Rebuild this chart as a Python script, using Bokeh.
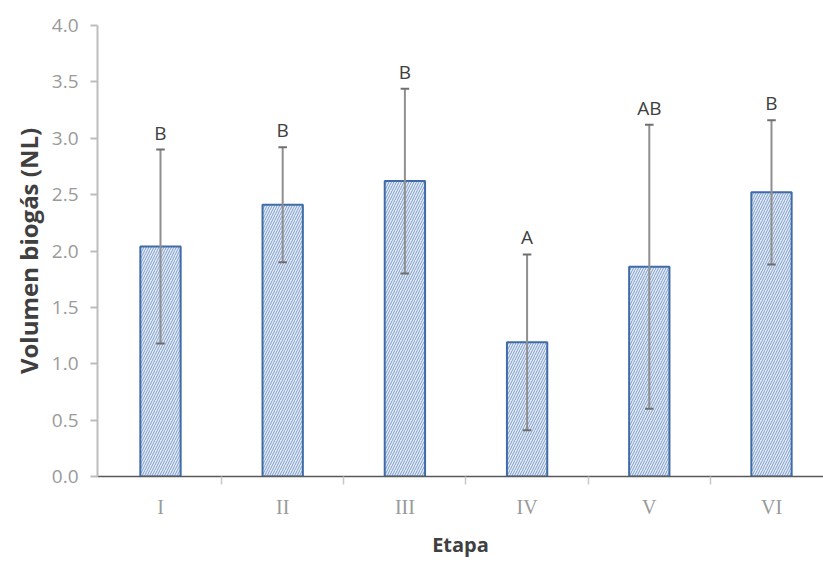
from bokeh.plotting import figure
from bokeh.models import ColumnDataSource, FixedTicker, Range1d
from bokeh.core.properties import value
from bokeh.embed import file_html
from bokeh.resources import INLINE

# Biogas volume per stage (mean ± error) with significance letters
etapas = ["I", "II", "III", "IV", "V", "VI"]
volumen = [2.04, 2.41, 2.62, 1.19, 1.86, 2.52]
error = [0.86, 0.51, 0.82, 0.78, 1.26, 0.64]
letras = ["B", "B", "B", "A", "AB", "B"]
y_ticks = [0.0, 0.5, 1.0, 1.5, 2.0, 2.5, 3.0, 3.5, 4.0]

xpos = [i + 1 for i in range(len(etapas))]
src = ColumnDataSource(dict(
    x=xpos,
    top=volumen,
    lo=[v - e for v, e in zip(volumen, error)],
    hi=[v + e for v, e in zip(volumen, error)],
    cap_l=[x - 0.035 for x in xpos],
    cap_r=[x + 0.035 for x in xpos],
    letra=letras,
))

p = figure(width=823, height=562, output_backend="svg", toolbar_location=None,
           x_range=Range1d(0.4845, 6.4256), y_range=Range1d(0, 4),
           min_border_left=97, min_border_right=0, min_border_top=25,
           min_border_bottom=86)
p.outline_line_color = None
p.grid.grid_line_color = None
p.background_fill_color = "white"
p.border_fill_color = "white"

# bars with diagonal hatch
p.vbar(x="x", top="top", bottom=0, width=0.33, source=src,
       fill_color="#e4ecf7", line_color="#3f6ca8", line_width=2,
       hatch_pattern="/", hatch_color="#7f9ccb", hatch_scale=5, hatch_weight=1)

# error bars
p.segment(x0="x", y0="lo", x1="x", y1="hi", source=src,
          line_color="#8f8f8f", line_width=2)
p.segment(x0="cap_l", y0="hi", x1="cap_r", y1="hi", source=src,
          line_color="#6f6f6f", line_width=2)
p.segment(x0="cap_l", y0="lo", x1="cap_r", y1="lo", source=src,
          line_color="#6f6f6f", line_width=2)

# significance letters
p.text(x="x", y="hi", text="letra", source=src, y_offset=-4,
       text_align="center", text_baseline="bottom",
       text_font=value("Open Sans"), text_font_size="19px", text_color="#404040")

# y axis
ya = p.yaxis[0]
ya.ticker = FixedTicker(ticks=y_ticks, minor_ticks=[])
ya.major_label_overrides = {t: f"{t:.1f}" for t in y_ticks}
ya.axis_line_color = "#bdbdbd"
ya.axis_line_width = 2
ya.major_tick_line_color = "#bdbdbd"
ya.major_tick_line_width = 2
ya.major_tick_in = 0
ya.major_tick_out = 7
ya.major_label_standoff = 12
ya.major_label_text_font = "Open Sans"
ya.major_label_text_font_size = "19px"
ya.major_label_text_color = "#9a9a9a"
ya.axis_label = "Volumen biogás (NL)"
ya.axis_label_text_font = "Open Sans"
ya.axis_label_text_font_style = "bold"
ya.axis_label_text_font_size = "24px"
ya.axis_label_text_color = "#404040"
ya.axis_label_standoff = 4

# x axis: category labels at centres, separator ticks between categories
xa = p.xaxis[0]
xa.ticker = FixedTicker(ticks=xpos, minor_ticks=[1.5, 2.5, 3.5, 4.5, 5.5])
xa.major_label_overrides = {x: e for x, e in zip(xpos, etapas)}
xa.axis_line_color = "#595959"
xa.axis_line_width = 1.5
xa.major_tick_line_color = None
xa.minor_tick_line_color = "#c8c8c8"
xa.minor_tick_line_width = 1.5
xa.minor_tick_in = 0
xa.minor_tick_out = 8
xa.major_label_standoff = 11
xa.major_label_text_font = "Liberation Serif"
xa.major_label_text_font_size = "20px"
xa.major_label_text_color = "#9a9a9a"
xa.axis_label = "Etapa"
xa.axis_label_text_font = "Open Sans"
xa.axis_label_text_font_style = "bold"
xa.axis_label_text_font_size = "20px"
xa.axis_label_text_color = "#404040"
xa.axis_label_standoff = 10

open("out.html", "w").write(file_html(p, INLINE))
